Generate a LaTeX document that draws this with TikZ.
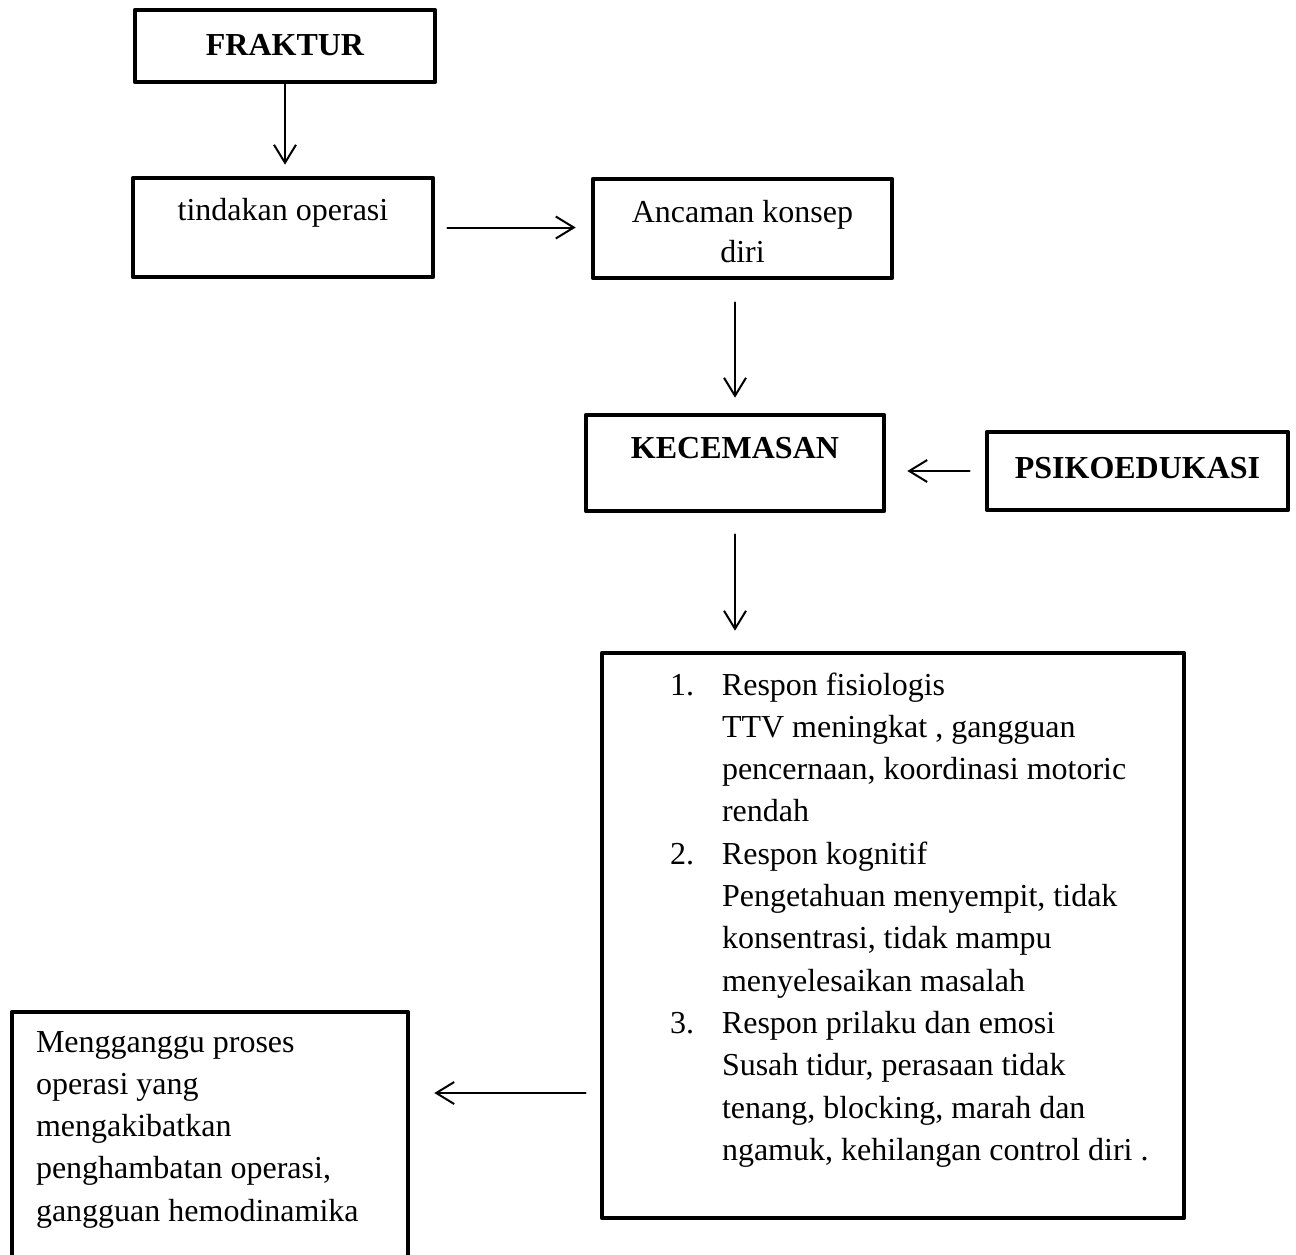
\documentclass[tikz,border=0pt]{standalone}
\usepackage{fontspec}
\setmainfont{Liberation Serif}
\usetikzlibrary{arrows.meta}
\newcommand{\isikotak}[4]{\parbox[c][#2][t]{#1}{\vspace*{#3}#4}}

\begin{document}
\begin{tikzpicture}[x=0.5pt, y=-0.5pt, line cap=round, line join=round,
  >={Straight Barb[length=9pt, width=11pt]},
  kotak/.style={draw, line width=2.3pt, inner sep=0pt, font=\fontsize{16}{21.15}\selectfont},
  judul/.style={kotak, font=\fontsize{16}{21.15}\selectfont\bfseries},
  panah/.style={->, line width=1pt}]
  \clip (0,0) rectangle (1296,1254);
  %--- Fraktur
  \node[judul, minimum width=150pt, text height=22.75pt, text depth=13.25pt] (fraktur) at (285,46) {FRAKTUR};
  %--- Tindakan operasi
  \node[kotak, minimum width=150pt, text height=21pt, text depth=28.5pt] (tindakan) at (283,227.5) {tindakan operasi};
  %--- Ancaman konsep diri
  \node[kotak] (ancaman) at (742.5,228.5)
    {\isikotak{149.5pt}{49.5pt}{7.5pt}{\centering\fontsize{16}{20}\selectfont\strut Ancaman konsep\\ diri}};
  %--- Kecemasan
  \node[judul, minimum width=149pt, text height=21.75pt, text depth=26.25pt] (kecemasan) at (735,463) {KECEMASAN};
  %--- Psikoedukasi
  \node[judul, minimum width=150.5pt, text height=23.25pt, text depth=15.75pt] (psiko) at (1137.5,471) {PSIKOEDUKASI};
  %--- Respon
  \node[kotak] (respon) at (893,935.5)
    {\isikotak{291pt}{282.5pt}{6.2pt}{\raggedright
      \hspace*{34pt}\makebox[26pt][l]{\strut 1.}Respon fisiologis\\
      \hspace*{60pt}TTV meningkat , gangguan\\
      \hspace*{60pt}pencernaan, koordinasi motoric\\
      \hspace*{60pt}rendah\\
      \hspace*{34pt}\makebox[26pt][l]{2.}Respon kognitif\\
      \hspace*{60pt}Pengetahuan menyempit, tidak\\
      \hspace*{60pt}konsentrasi, tidak mampu\\
      \hspace*{60pt}menyelesaikan masalah\\
      \hspace*{34pt}\makebox[26pt][l]{3.}Respon prilaku dan emosi\\
      \hspace*{60pt}Susah tidur, perasaan tidak\\
      \hspace*{60pt}tenang, blocking, marah dan\\
      \hspace*{60pt}ngamuk, kehilangan control diri .}};
  %--- Hasil
  \node[kotak] (hasil) at (210,1151)
    {\isikotak{198pt}{139pt}{5.2pt}{\raggedright\leftskip=12pt
      \strut Mengganggu proses\\
      operasi yang\\
      mengakibatkan\\
      penghambatan operasi,\\
      gangguan hemodinamika}};
  %--- Panah
  \draw[panah, shorten >=5.5pt] (fraktur.south) -- (fraktur.south |- tindakan.north);
  \draw[panah, shorten <=6pt, shorten >=7.5pt] (tindakan.east) -- (tindakan.east -| ancaman.west);
  \draw[panah, shorten <=11pt, shorten >=7.5pt] (kecemasan.north |- ancaman.south) -- (kecemasan.north);
  \draw[panah, shorten <=7.5pt, shorten >=10.5pt] (psiko.west) -- (psiko.west -| kecemasan.east);
  \draw[panah, shorten <=10.5pt, shorten >=10pt] (kecemasan.south) -- (kecemasan.south |- respon.north);
  \coordinate (cabang) at ([yshift=-78.75pt]respon.west);
  \draw[panah, shorten <=7pt, shorten >=12pt] (cabang) -- (cabang -| hasil.east);
\end{tikzpicture}
\end{document}
